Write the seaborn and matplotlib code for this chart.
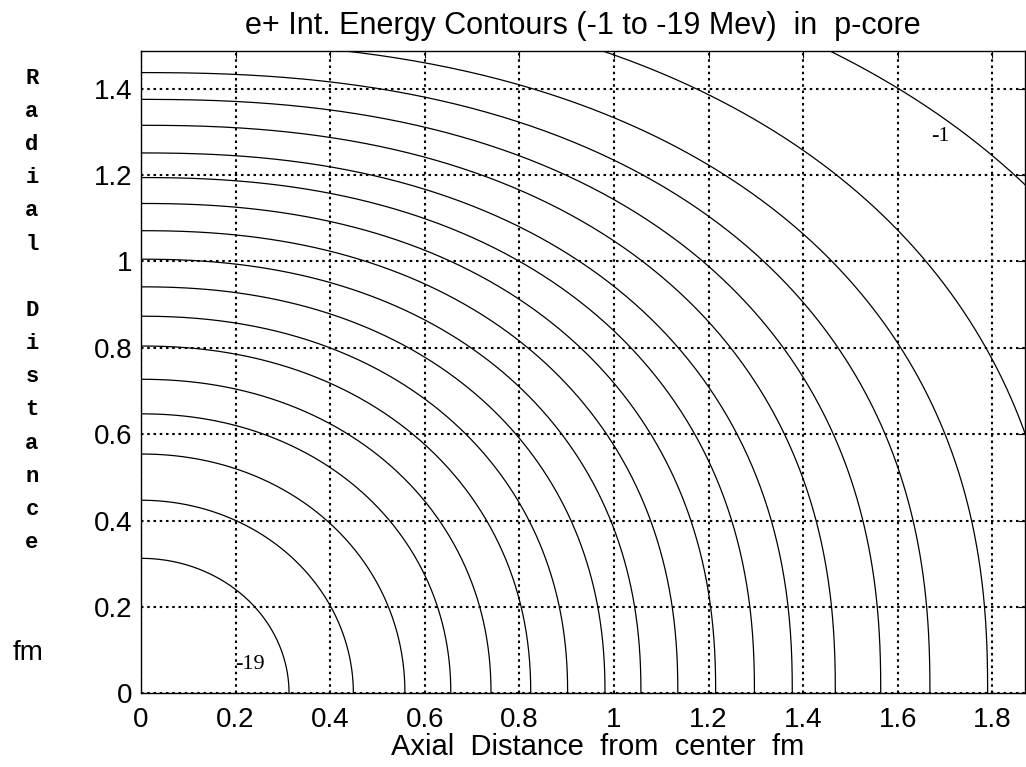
import numpy as np
import pandas as pd
import matplotlib
matplotlib.use('Agg')
import matplotlib.pyplot as plt
import seaborn as sns

# contour levels in MeV, innermost first
levels = [-19, -18, -17, -16, -15, -14, -13, -12, -11, -10,
          -9, -8, -7, -6, -5, -4, -3, -2, -1]
# where each contour meets the axial axis (y = 0), fm
axial = [0.313, 0.449, 0.558, 0.655, 0.740, 0.824, 0.902, 0.981, 1.057, 1.135,
         1.215, 1.297, 1.377, 1.468, 1.564, 1.668, 1.790, 1.951, 2.287]
# where each contour meets the radial axis (x = 0), fm
radial = [0.3125, 0.447, 0.554, 0.647, 0.727, 0.804, 0.873, 0.941, 1.005, 1.071,
          1.134, 1.194, 1.251, 1.315, 1.375, 1.437, 1.510, 1.632, 1.782]
# squareness of each contour (2 = plain ellipse)
shape = [2.0, 2.0, 2.05, 2.08, 2.10, 2.13, 2.16, 2.19, 2.22, 2.24,
         2.26, 2.28, 2.30, 2.32, 2.34, 2.35, 2.35, 2.35, 2.35]

x_ticks = [0, 0.2, 0.4, 0.6, 0.8, 1, 1.2, 1.4, 1.6, 1.8]
y_ticks = [0, 0.2, 0.4, 0.6, 0.8, 1, 1.2, 1.4]
title = 'e+ Int. Energy Contours (-1 to -19 Mev)  in  p-core'
xlabel = 'Axial  Distance  from  center  fm'
ylabel = 'Radial Distance'

#%% curve points for every contour
t = np.linspace(0, np.pi / 2, 300)
rows = []
for lev, a, b, p in zip(levels, axial, radial, shape):
    xs = a * np.cos(t) ** (2 / p)
    ys = b * np.sin(t) ** (2 / p)
    rows.append(pd.DataFrame({'x': xs, 'y': ys, 'level': lev}))
df = pd.concat(rows, ignore_index=True)

#%%
sns.set_style('white')
plt.rcParams['font.family'] = ['Liberation Sans', 'DejaVu Sans']
plt.rcParams['text.color'] = 'black'
plt.rcParams['axes.labelcolor'] = 'black'

fig = plt.figure(figsize=(10.26, 7.67), dpi=100)
ax = fig.add_axes([141 / 1026, 73.7 / 767, 884 / 1026, 642.3 / 767])

sns.lineplot(data=df, x='x', y='y', units='level', estimator=None, sort=False,
             color='black', linewidth=0.9, ax=ax)

ax.set_xlim(0, 1.869)
ax.set_ylim(0, 1.487)
ax.set_xticks(x_ticks)
ax.set_yticks(y_ticks)
ax.set_xticklabels(['%g' % v for v in x_ticks])
ax.set_yticklabels(['%g' % v for v in y_ticks])
ax.tick_params(direction='in', length=5, width=0.8, top=True, right=True,
               labelsize=20, colors='black')
ax.tick_params(axis='x', pad=10)
ax.tick_params(axis='y', pad=6)
ax.grid(True, color='black', linestyle=(0, (1.2, 1.8)), linewidth=1.5)
for s in ax.spines.values():
    s.set_color('black')
    s.set_linewidth(1.0)
    s.set_visible(True)

ax.set_title(title, fontsize=22, pad=12)
ax.set_xlabel(xlabel, fontsize=21, labelpad=4)
ax.xaxis.set_label_coords(0.516, -0.062)
ax.set_ylabel('')

# contour labels
ax.text(1.69, 1.29, '-1', fontsize=16, family='Liberation Serif',
        ha='center', va='center')
ax.text(0.23, 0.066, '-19', fontsize=16, family='Liberation Serif',
        ha='center', va='center')

# stacked radial label, one letter per line
for i, ch in enumerate(ylabel):
    if ch == ' ':
        continue
    fig.text(32 / 1026, 1 - (78 + 33.2 * i) / 767, ch, fontsize=16,
             family='Liberation Mono', weight='bold', ha='center', va='center')
fig.text(28 / 1026, 1 - 653 / 767, 'fm', fontsize=20, ha='center', va='center')

fig.savefig('out.png', dpi=100)
